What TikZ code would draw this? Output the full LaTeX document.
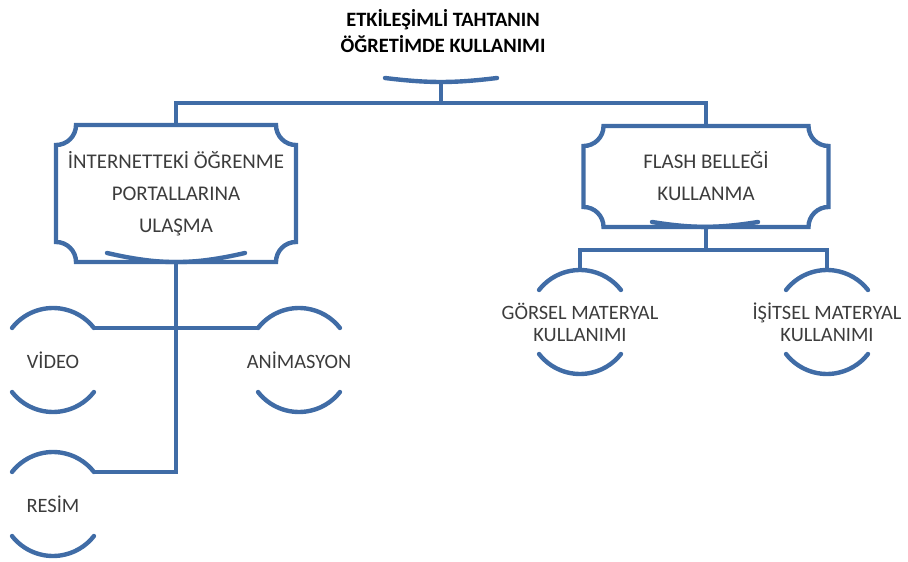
\documentclass[tikz,border=0pt]{standalone}
\usepackage{fontspec}
\setmainfont{Carlito}
\usepackage{tikz}
\usetikzlibrary{calc,positioning}
\definecolor{linkblue}{RGB}{64,108,166}
\definecolor{textgray}{RGB}{60,60,60}

\begin{document}
\begin{tikzpicture}[x=0.02cm, y=0.02cm,
    link/.style={draw=linkblue, line width=2.5pt},
    boxtext/.style={inner sep=0pt, outer sep=0pt, align=center, text=textgray,
        font=\fontsize{11.9}{18.2}\selectfont},
    leaftext/.style={inner sep=0pt, outer sep=0pt, align=center, text=textgray,
        font=\fontsize{11.6}{12.5}\selectfont}]
    \useasboundingbox (0,0) rectangle (908,561);

    % Title
    \node[inner sep=0pt, align=center, font=\fontsize{11.6}{15.3}\bfseries\selectfont] (title) at (443,530)
        {ETKİLEŞİMLİ TAHTANIN\\ÖĞRETİMDE KULLANIMI};
    \coordinate (topl) at (385,483);
    \coordinate (topr) at (497,483);
    \coordinate (topmid) at (441,479);
    \coordinate (bus) at (441,458);

    % Main boxes
    \node[boxtext, minimum width=4.8cm, minimum height=2.74cm] (portal) at (176,367.5)
        {İNTERNETTEKİ ÖĞRENME\\PORTALLARINA\\ULAŞMA};
    \node[boxtext, minimum width=4.9cm, minimum height=2.02cm] (flash) at (706,384.5)
        {FLASH BELLEĞİ\\KULLANMA};

    % Leaves
    \node[leaftext] (video) at (53,201) {VİDEO};
    \node[leaftext] (anim) at (299,201) {ANİMASYON};
    \node[leaftext] (resim) at (53,57) {RESİM};
    \node[leaftext] (gorsel) at (580,239) {GÖRSEL MATERYAL\\KULLANIMI};
    \node[leaftext] (isitsel) at (827,239) {İŞİTSEL MATERYAL\\KULLANIMI};

    % Title bracket
    \draw[link, line cap=round] (topl) to[bend right=7] (topr);
    \draw[link] (topmid) -- (bus) -| (portal.north);
    \draw[link] (topmid) -- (bus) -| (flash.north);

    % Box outlines
    \draw[link] ([shift={(20,0)}]portal.north west) -- ([shift={(-20,0)}]portal.north east)
        arc[start angle=180, end angle=270, radius=20] -- ([shift={(0,20)}]portal.south east)
        arc[start angle=90, end angle=180, radius=20] -- ([shift={(20,0)}]portal.south west)
        arc[start angle=0, end angle=90, radius=20] -- ([shift={(0,-20)}]portal.north west)
        arc[start angle=270, end angle=360, radius=20] -- cycle;
    \draw[link] ([shift={(20,0)}]flash.north west) -- ([shift={(-20,0)}]flash.north east)
        arc[start angle=180, end angle=270, radius=20] -- ([shift={(0,20)}]flash.south east)
        arc[start angle=90, end angle=180, radius=20] -- ([shift={(20,0)}]flash.south west)
        arc[start angle=0, end angle=90, radius=20] -- ([shift={(0,-20)}]flash.north west)
        arc[start angle=270, end angle=360, radius=20] -- cycle;
    \draw[link, line cap=round] ([shift={(-69,9)}]portal.south) to[bend right=13] ([shift={(69,9)}]portal.south);
    \draw[link, line cap=round] ([shift={(-54,5)}]flash.south) to[bend right=9] ([shift={(52,5)}]flash.south);

    % Leaf arcs
    \draw[link, line cap=round] (video.center) ++(142:52) arc[start angle=142, end angle=38, radius=52] coordinate (video-tr);
    \draw[link, line cap=round] (video.center) ++(218:52) arc[start angle=218, end angle=322, radius=52];
    \draw[link, line cap=round] (anim.center) ++(142:52) coordinate (anim-tl) arc[start angle=142, end angle=38, radius=52];
    \draw[link, line cap=round] (anim.center) ++(218:52) arc[start angle=218, end angle=322, radius=52];
    \draw[link, line cap=round] (resim.center) ++(142:52) arc[start angle=142, end angle=38, radius=52] coordinate (resim-tr);
    \draw[link, line cap=round] (resim.center) ++(218:52) arc[start angle=218, end angle=322, radius=52];
    \draw[link, line cap=round] (gorsel.center) ++(142:52) arc[start angle=142, end angle=38, radius=52];
    \draw[link, line cap=round] (gorsel.center) ++(218:52) arc[start angle=218, end angle=322, radius=52];
    \draw[link, line cap=round] (isitsel.center) ++(142:52) arc[start angle=142, end angle=38, radius=52];
    \draw[link, line cap=round] (isitsel.center) ++(218:52) arc[start angle=218, end angle=322, radius=52];

    % Connectors
    \draw[link] (video-tr) -- (anim-tl);
    \draw[link] (portal.south) |- (resim-tr);
    \draw[link] (flash.south) -- ++(0,-23) -| ([shift={(0,52)}]gorsel.center);
    \draw[link] (flash.south) -- ++(0,-23) -| ([shift={(0,52)}]isitsel.center);
\end{tikzpicture}
\end{document}
